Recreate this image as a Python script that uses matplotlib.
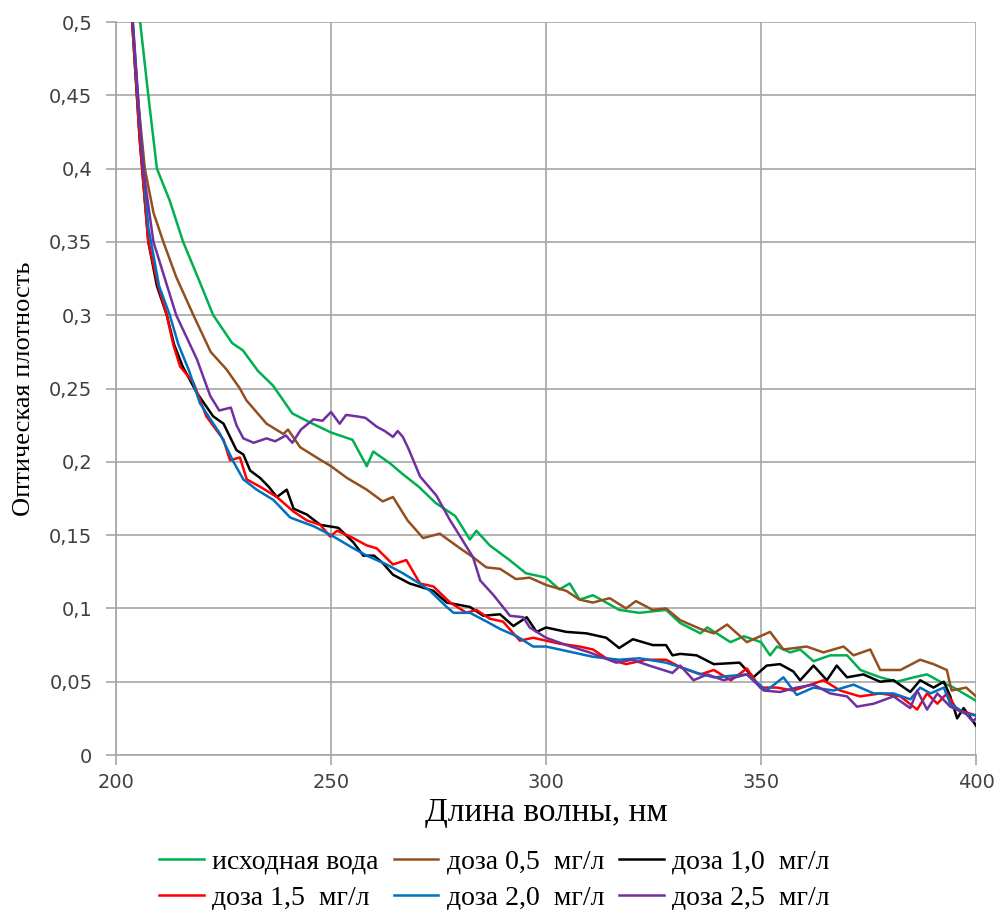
import matplotlib.pyplot as plt

# длины волн и оптическая плотность
x_water = [202.8, 205.6, 207.5, 209.5, 212.5, 215.6, 219, 222.6, 227, 229.5, 233, 236.5, 241, 245, 250,
           255, 258.3, 259.8, 263.7, 266.5, 270.4, 274.3, 278.9, 282.3, 283.8, 286.9, 291.5, 295.3, 300,
           303.1, 305.5, 307.8, 310.9, 314, 317, 321.7, 327.9, 331.2, 335.9, 337.5, 342.9, 346, 350, 352.1,
           353.7, 356.8, 359.1, 362.2, 366.1, 370, 373.1, 377.7, 381.6, 385.5, 388.6, 391.7, 394.8, 400]
y_water = [0.58, 0.50, 0.45, 0.40, 0.378, 0.35, 0.326, 0.30, 0.281, 0.276, 0.262, 0.252, 0.233, 0.227, 0.220,
           0.215, 0.197, 0.207, 0.199, 0.192, 0.183, 0.172, 0.163, 0.147, 0.153, 0.143, 0.133, 0.124, 0.121,
           0.113, 0.117, 0.106, 0.109, 0.104, 0.099, 0.097, 0.099, 0.090, 0.083, 0.087, 0.077, 0.081, 0.077, 0.068,
           0.074, 0.070, 0.072, 0.064, 0.068, 0.068, 0.058, 0.053, 0.050, 0.053, 0.055, 0.050, 0.046, 0.037]

x_d05 = [202, 205, 206.7, 208.7, 211, 214, 218, 222, 225.7, 228.8, 230.3, 235, 238.9, 240, 242.8, 246.6,
         250, 253.7, 258.3, 262, 264.4, 267.8, 271.4, 275.3, 280, 283, 286.1, 289.3, 293, 296.2, 300,
         304.7, 307.8, 310.9, 314.8, 318.6, 320.9, 324.8, 327.9, 331.2, 335.9, 339, 342.1, 346.7, 352.1,
         355.2, 360.6, 364.5, 369.2, 371.5, 375.4, 377.7, 382.4, 387, 390.1, 393.2, 394.3, 397.7, 400]
y_d05 = [0.58, 0.45, 0.40, 0.37, 0.35, 0.326, 0.30, 0.275, 0.263, 0.25, 0.242, 0.226, 0.219, 0.222, 0.210, 0.203,
         0.197, 0.189, 0.181, 0.173, 0.176, 0.160, 0.148, 0.151, 0.141, 0.135, 0.128, 0.127, 0.120, 0.121, 0.116,
         0.112, 0.106, 0.104, 0.107, 0.100, 0.105, 0.099, 0.100, 0.092, 0.086, 0.083, 0.089, 0.077, 0.084,
         0.072, 0.074, 0.070, 0.074, 0.068, 0.072, 0.058, 0.058, 0.065, 0.062, 0.058, 0.044, 0.046, 0.040]

x_d10 = [202, 205.5, 207.5, 209.5, 211.8, 213.5, 215.5, 218.8, 222.6, 225, 228, 229.6, 231.2, 233.5, 235.5,
         237.4, 239.7, 241.3, 244.4, 247.5, 251.7, 255.2, 257.5, 260, 262, 264.4, 268.3, 273.8, 276.9, 282.3,
         285.4, 289.3, 292.4, 295.5, 297.8, 300, 304.7, 309.4, 314, 317, 320.2, 324.8, 327.9, 329.4, 331.2,
         335, 339, 345, 348.2, 351.3, 354.4, 357.5, 359.1, 362.2, 365.3, 367.6, 370, 373.8, 377.7, 380.8,
         384.7, 387, 390.1, 392.5, 394, 395.6, 397.1, 400]
y_d10 = [0.58, 0.42, 0.35, 0.32, 0.30, 0.28, 0.265, 0.247, 0.231, 0.226, 0.208, 0.205, 0.194, 0.189, 0.183,
         0.176, 0.181, 0.168, 0.164, 0.157, 0.155, 0.145, 0.136, 0.136, 0.131, 0.123, 0.117, 0.112, 0.104, 0.101,
         0.095, 0.096, 0.088, 0.094, 0.084, 0.087, 0.084, 0.083, 0.080, 0.073, 0.079, 0.075, 0.075, 0.068, 0.069,
         0.068, 0.062, 0.063, 0.053, 0.061, 0.062, 0.057, 0.051, 0.061, 0.051, 0.061, 0.053, 0.055, 0.050, 0.051,
         0.043, 0.051, 0.046, 0.050, 0.040, 0.025, 0.032, 0.020]

x_d15 = [202, 205.5, 207.5, 209.8, 211.8, 213.3, 214.9, 218, 221, 225, 226.5, 228.8, 230.4, 233.5, 237.4,
         241.3, 244.4, 247.5, 249.8, 251.4, 254.5, 258.3, 260.6, 264.4, 267.5, 270.7, 273.8, 277.7, 281.5,
         283.8, 286.9, 290, 293.9, 297, 300, 303.1, 307.8, 310.9, 314, 318.6, 323.3, 327.9, 331.2, 335.9,
         339, 343, 346.7, 349.8, 353.7, 357.5, 364.5, 368.4, 373, 377.7, 382.4, 386.3, 388.6, 391, 393.2,
         395.6, 400]
y_d15 = [0.58, 0.42, 0.35, 0.32, 0.30, 0.28, 0.265, 0.254, 0.231, 0.215, 0.201, 0.203, 0.188, 0.183, 0.176,
         0.166, 0.160, 0.157, 0.149, 0.153, 0.149, 0.143, 0.141, 0.130, 0.133, 0.117, 0.115, 0.104, 0.097,
         0.099, 0.093, 0.091, 0.078, 0.080, 0.078, 0.076, 0.074, 0.072, 0.066, 0.062, 0.065, 0.065, 0.060, 0.055,
         0.058, 0.051, 0.059, 0.046, 0.046, 0.044, 0.051, 0.044, 0.040, 0.042, 0.040, 0.031, 0.042, 0.035, 0.042,
         0.031, 0.027]

x_d20 = [202, 205.5, 207.5, 210, 212.5, 214.5, 217, 219.5, 224.2, 227.3, 229.6, 232.7, 236.6, 240.5, 246,
         250, 255.2, 258.3, 262.9, 266.7, 270.6, 273, 276.9, 278.5, 282.3, 286.2, 289.3, 293.2, 297, 300,
         304.7, 310.9, 317, 321.7, 327.9, 331.2, 335.1, 339, 346.7, 351.3, 355.2, 358.3, 362.2, 366.9,
         371.5, 376.2, 380.8, 384.7, 387, 389.4, 392.5, 394, 397.7, 400]
y_d20 = [0.58, 0.43, 0.36, 0.32, 0.30, 0.28, 0.262, 0.24, 0.219, 0.20, 0.188, 0.181, 0.174, 0.162, 0.156,
         0.150, 0.141, 0.136, 0.130, 0.124, 0.117, 0.112, 0.101, 0.097, 0.097, 0.091, 0.086, 0.081, 0.074, 0.074,
         0.071, 0.067, 0.065, 0.066, 0.063, 0.060, 0.056, 0.053, 0.055, 0.044, 0.053, 0.041, 0.046, 0.044,
         0.048, 0.042, 0.042, 0.038, 0.046, 0.042, 0.046, 0.035, 0.028, 0.027]

x_d25 = [202, 206.3, 208.7, 214, 218.8, 221.9, 224, 226.7, 228, 229.6, 232, 235, 237, 239.5, 241, 243,
         245.9, 248, 250, 252, 253.5, 256, 258, 260.6, 262.5, 264.4, 265.5, 266.7, 268, 270.7, 274.5, 277.7,
         279.2, 283, 284.7, 287.8, 291.6, 294.7, 296.2, 300, 304.7, 310.1, 316.3, 320, 324, 329.4, 331.2,
         334.3, 337.5, 341.3, 346.7, 350.6, 354.4, 358.3, 362.2, 366.1, 370, 372.3, 376.2, 380.8, 384.7,
         386.3, 388.6, 391, 394, 397.7, 399.2, 400]
y_d25 = [0.58, 0.40, 0.35, 0.30, 0.27, 0.245, 0.235, 0.237, 0.225, 0.216, 0.213, 0.216, 0.214, 0.218, 0.213, 0.222,
         0.229, 0.228, 0.234, 0.226, 0.232, 0.231, 0.230, 0.224, 0.221, 0.217, 0.221, 0.217, 0.209, 0.190, 0.177, 0.160,
         0.153, 0.135, 0.119, 0.109, 0.095, 0.094, 0.087, 0.080, 0.075, 0.070, 0.063, 0.065, 0.061, 0.056, 0.061,
         0.051, 0.055, 0.051, 0.055, 0.044, 0.043, 0.046, 0.048, 0.042, 0.040, 0.033, 0.035, 0.040, 0.032,
         0.044, 0.031, 0.042, 0.033, 0.028, 0.023, 0.025]

series = [
    (x_water, y_water, 'исходная вода', '#00B050'),
    (x_d05, y_d05, 'доза 0,5  мг/л', '#93501E'),
    (x_d10, y_d10, 'доза 1,0  мг/л', '#000000'),
    (x_d15, y_d15, 'доза 1,5  мг/л', '#FF0000'),
    (x_d20, y_d20, 'доза 2,0  мг/л', '#0070C0'),
    (x_d25, y_d25, 'доза 2,5  мг/л', '#7030A0'),
]

fig = plt.figure(figsize=(9.97, 9.10), dpi=100)
ax = fig.add_axes([0.1164, 0.1703, 0.8626, 0.8055])

lines = []
for xs, ys, name, c in series:
    ln, = ax.plot(xs, ys, color=c, lw=1.8, label=name)
    lines.append(ln)

ax.set_xlim(200, 400)
ax.set_ylim(0, 0.5)
ax.set_xticks([200, 250, 300, 350, 400])
ax.set_yticks([i * 0.05 for i in range(11)])
ax.set_yticklabels(['0', '0,05', '0,1', '0,15', '0,2', '0,25', '0,3', '0,35', '0,4', '0,45', '0,5'])
ax.grid(True, color='#A6A6A6', lw=1.2)
ax.set_axisbelow(True)
for s in ['top', 'right']:
    ax.spines[s].set_visible(False)
for s in ['left', 'bottom']:
    ax.spines[s].set_color('#A6A6A6')
    ax.spines[s].set_linewidth(1.2)
ax.tick_params(colors='#A6A6A6', labelcolor='#404040', length=7, width=1.2, labelsize=14)
ax.tick_params(axis='y', pad=10)
ax.tick_params(axis='x', pad=6)

ax.set_xlabel('Длина волны, нм', fontsize=24, family='Liberation Serif', labelpad=4)
ax.set_ylabel('Оптическая плотность', fontsize=19, family='Liberation Serif', labelpad=10)

# легенда заполняется по строкам, как в оригинале
order = [0, 3, 1, 4, 2, 5]
ax.legend([lines[i] for i in order], [lines[i].get_label() for i in order],
          loc='center', bbox_to_anchor=(0.44, -0.1705), ncol=3, frameon=False,
          prop={'family': 'Liberation Serif', 'size': 20}, handlelength=1.6, handletextpad=0.3,
          columnspacing=0.55, labelspacing=0.38)

plt.savefig('out.png')
